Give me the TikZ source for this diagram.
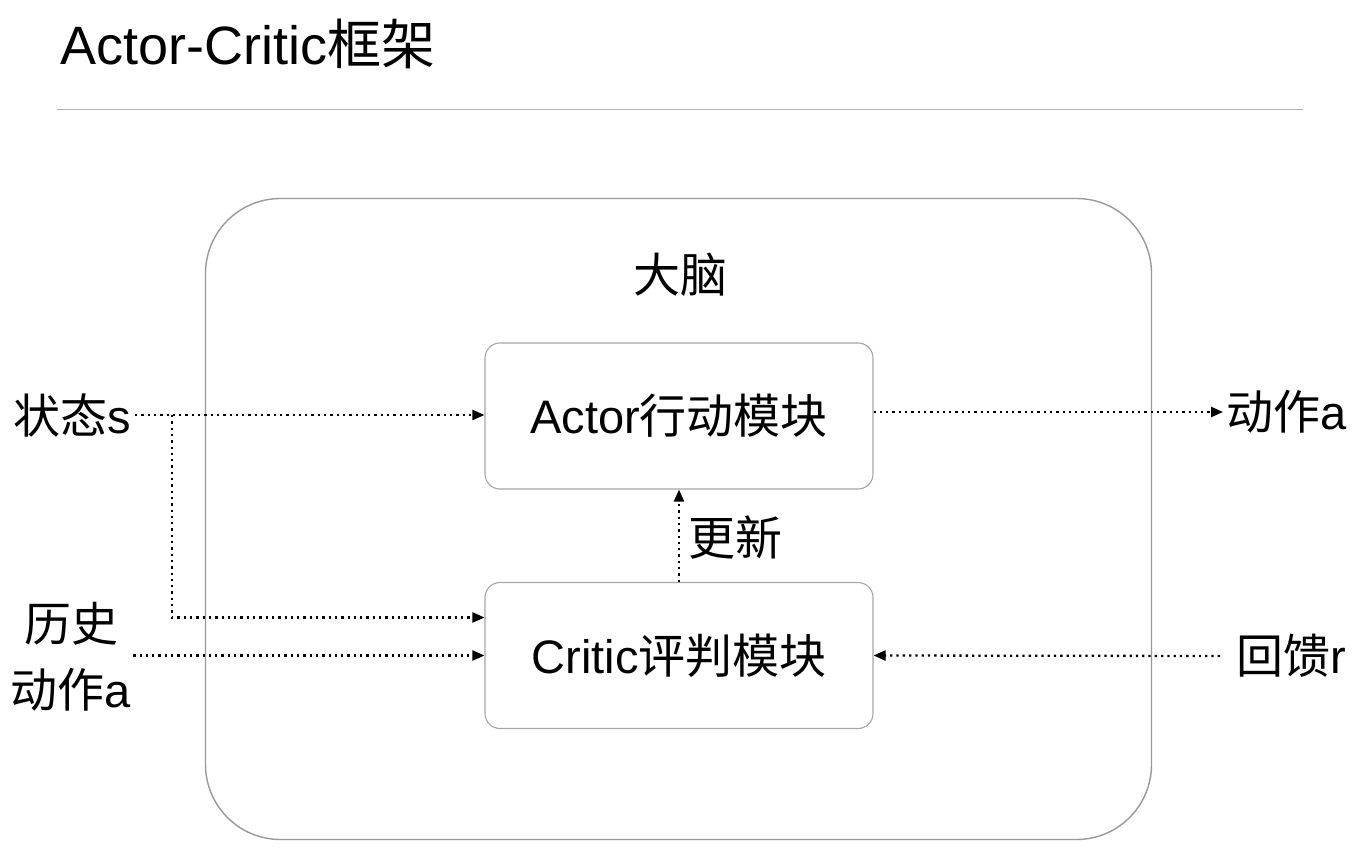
\documentclass[tikz,border=0pt]{standalone}
\usepackage{fontspec}
\setmainfont{Liberation Sans}
\newfontfamily\cjk{Noto Sans CJK SC}
\usetikzlibrary{arrows.meta}
\tikzset{
  box/.style={draw=black!35, line width=1.1pt, rounded corners=15pt, minimum width=388pt, minimum height=146pt, inner sep=0pt},
  lbl/.style={inner sep=0pt, font=\fontsize{47}{52}\selectfont},
  flow/.style={line width=2.3pt, dash pattern=on 2.3pt off 4pt, -{Triangle[length=12pt,width=10pt]}}
}
\begin{document}
\begin{tikzpicture}[x=1pt,y=-1pt]
\useasboundingbox (0,0) rectangle (1354,864);
\node[anchor=base west, inner sep=0pt, font=\fontsize{54}{60}\selectfont] (title) at (60,65) {Actor-Critic{\cjk 框架}};
\coordinate (sepL) at (57,110);
\coordinate (sepR) at (1303,110);
\draw[black!30, line width=1pt] (sepL) -- (sepR);
\node[draw=black!40, line width=1.4pt, rounded corners=75pt, minimum width=946pt, minimum height=641pt, inner sep=0pt] (brain) at (678.5,519) {};
\node[lbl] (brainlbl) at (680,275) {\cjk 大脑};
\node[box] (actor) at (679,416) {};
\node[lbl] at (actor.center) {Actor{\cjk 行动模块}};
\node[box] (critic) at (679,655.5) {};
\node[lbl] at (critic.center) {Critic{\cjk 评判模块}};
\node[lbl, anchor=east] (state) at (131,415) {{\cjk 状态}s};
\node[lbl, align=center, font=\fontsize{47}{66}\selectfont] (hist) at (71,657) {{\cjk 历史}\\{\cjk 动作}a};
\node[lbl, anchor=west] (act) at (1226,412) {{\cjk 动作}a};
\node[lbl, anchor=west] (fb) at (1236,656) {{\cjk 回馈}r};
\node[lbl, anchor=west] (upd) at (688,538) {\cjk 更新};
\coordinate (br) at (172,415);
\draw[flow] ([xshift=4pt]state.east) -- (actor.west |- state.east);
\draw[flow] (br) |- ([yshift=38pt]critic.west);
\draw[flow] ([xshift=2pt]hist.east |- critic.west) -- (critic.west);
\draw[flow] (actor.east |- act.west) -- ([xshift=-3pt]act.west);
\draw[flow] ([xshift=-16pt]fb.west) -- (critic.east);
\draw[flow] (critic.north) -- (actor.south);
\end{tikzpicture}
\end{document}
